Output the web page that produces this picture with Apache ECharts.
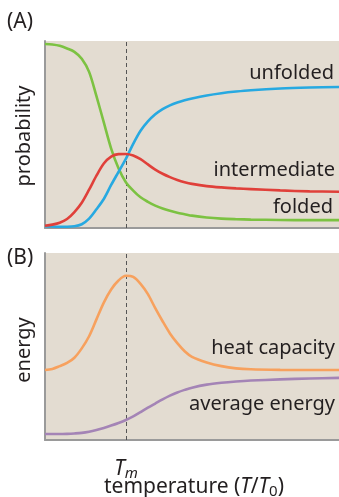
<!DOCTYPE html>
<html><head><meta charset="utf-8">
<script src="https://cdn.jsdelivr.net/npm/echarts@6/dist/echarts.min.js"></script>
<style>html,body{margin:0;padding:0;background:#fff}#c{width:339px;height:497px}</style>
</head><body><div id="c"></div>
<script>
// x: temperature (0..100 scale), y: relative value (0..100)
const Tm = 27.6;
const temperature = [0,2.5,5,7.5,10,12.5,15,17.5,20,22.5,25,27.5,30,32.5,35,37.5,40,42.5,45,47.5,50,55,60,65,70,80,90,100];
const folded       = [98.4,98.1,97.4,96,94.2,90.5,83.5,70.5,56.5,42.5,32,24.5,20,16.4,14,12,10.4,9.2,8.2,7.4,6.6,5.6,5.0,4.7,4.5,4.3,4.2,4.2];
const unfolded     = [1,0.8,0.7,0.7,0.9,2,5,10,15.5,23,30,37,45,52,57,60.8,63.6,65.6,67.1,68.3,69.3,70.9,72.1,73.0,73.7,74.6,75.1,75.4];
const intermediate = [1.2,1.8,2.8,4.8,8.5,13.5,20.5,28,34.5,38.2,39.5,39.6,38.8,36.8,34,31.2,29,27.2,25.7,24.5,23.6,22.4,21.7,21.2,20.8,20.1,19.6,19.4];
const heatCapacity = [37.4,38,39.5,41.2,44,49,55.5,64.5,73.5,80.5,85.3,87.8,87.2,83.5,78,70.5,63.5,57,51.8,47.5,44.5,41.5,39.5,38.3,37.8,37.5,37.4,37.4];
const averageEnergy= [3.2,3.2,3.2,3.3,3.5,3.8,4.4,5.3,6.4,7.7,9.1,10.7,12.6,14.9,17.3,19.5,21.7,23.7,25.4,26.8,28.0,29.6,30.6,31.3,31.8,32.4,32.9,33.2];

const FONT = 'Noto Sans';
const TXT = '#231f20';
const chart = echarts.init(document.getElementById('c'), null, {renderer:'canvas'});
const axisLine = {show:true, lineStyle:{color:'#9a9a9a', width:2}};
function xAx(i){return {type:'value', gridIndex:i, min:0, max:100, axisLine:axisLine, axisTick:{show:false}, axisLabel:{show:false}, splitLine:{show:false}};}
function yAx(i){return {type:'value', gridIndex:i, min:0, max:100, axisLine:axisLine, axisTick:{show:false}, axisLabel:{show:false}, splitLine:{show:false}};}
function line(name, ys, color, i, withMark){
  const data = temperature.map((x, k) => [x, ys[k]]);
  const s = {name:name, type:'line', xAxisIndex:i, yAxisIndex:i, data:data, smooth:0.3, symbol:'none', lineStyle:{color:color, width:2.6}, z:3};
  if (withMark) s.markLine = {silent:true, symbol:'none', label:{show:false}, lineStyle:{color:'#555', type:[4,3], width:1}, data:[{xAxis:Tm}], z:2};
  return s;
}
function label(text, x, y, align, size){
  return {type:'text', x:x, y:y, style:{text:text, fill:TXT, font:(size||20)+'px "'+FONT+'"', textAlign:align||'right', textVerticalAlign:'middle'}};
}
chart.setOption({
  animation:false,
  grid:[
    {left:45, right:0, top:41, bottom:269, show:true, backgroundColor:'#e3dcd1', borderWidth:0},
    {left:45, right:0, top:253, bottom:57, show:true, backgroundColor:'#e3dcd1', borderWidth:0}
  ],
  xAxis:[xAx(0), xAx(1)],
  yAxis:[yAx(0), yAx(1)],
  series:[
    line('folded', folded, '#7cc242', 0, true),
    line('unfolded', unfolded, '#27a9e1', 0, false),
    line('intermediate', intermediate, '#e0403a', 0, false),
    line('heat capacity', heatCapacity, '#f7a15e', 1, true),
    line('average energy', averageEnergy, '#a484b6', 1, false)
  ],
  graphic:[
    label('(A)', 7, 22, 'left', 21),
    label('(B)', 7, 258, 'left', 21),
    label('unfolded', 334, 73),
    label('intermediate', 335, 170),
    label('folded', 333, 207),
    label('heat capacity', 335, 348),
    label('average energy', 335, 404),
    {type:'text', x:24, y:136, rotation:Math.PI/2, style:{text:'probability', fill:TXT, font:'20px "'+FONT+'"', textAlign:'center', textVerticalAlign:'middle'}},
    {type:'text', x:24, y:350, rotation:Math.PI/2, style:{text:'energy', fill:TXT, font:'20px "'+FONT+'"', textAlign:'center', textVerticalAlign:'middle'}},
    {type:'text', x:126, y:469, style:{text:'{i|T}{s|m}', fill:TXT, textAlign:'center', textVerticalAlign:'middle',
      rich:{i:{font:'italic 21px "'+FONT+'"', fill:TXT}, s:{font:'italic 15px "'+FONT+'"', fill:TXT, padding:[9,0,0,0]}}}},
    {type:'text', x:194, y:487, style:{text:'{n|temperature (}{i|T}{n|/}{i|T}{s|0}{n|)}', fill:TXT, textAlign:'center', textVerticalAlign:'middle',
      rich:{n:{font:'21px "'+FONT+'"', fill:TXT}, i:{font:'italic 21px "'+FONT+'"', fill:TXT}, s:{font:'15px "'+FONT+'"', fill:TXT, padding:[9,0,0,0]}}}}
  ]
});
</script></body></html>
